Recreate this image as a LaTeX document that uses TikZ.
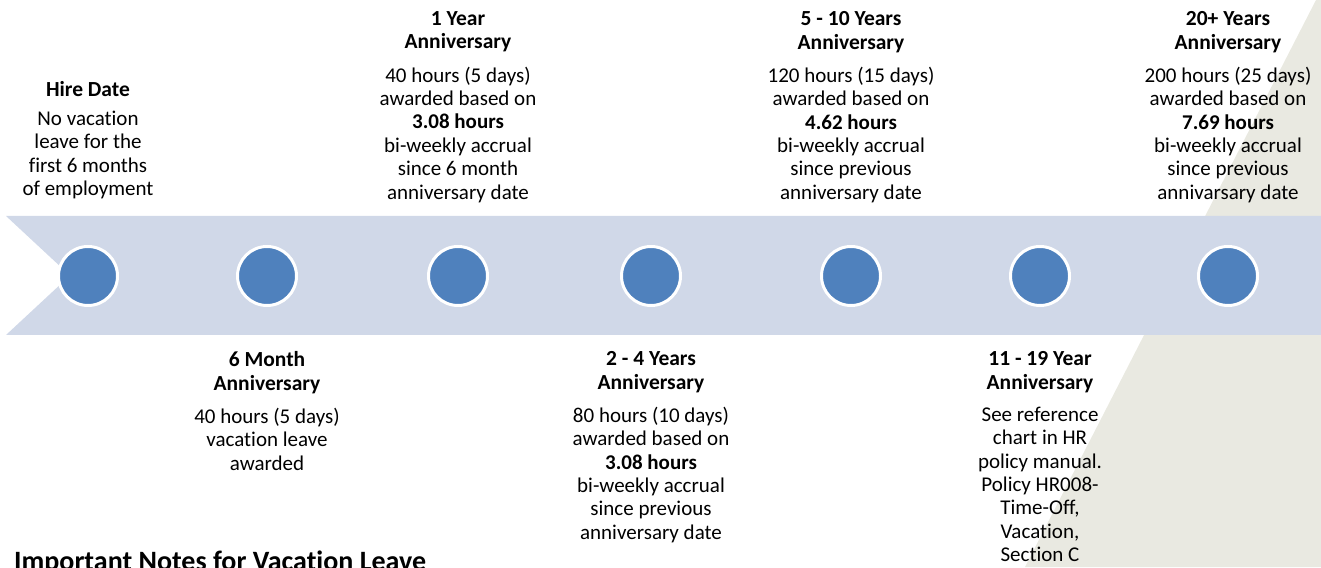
\documentclass[tikz,border=0pt]{standalone}
\usepackage{fontspec}
\setmainfont{Carlito}[Ligatures={NoCommon}]
\usetikzlibrary{positioning}
\definecolor{bandblue}{HTML}{D0D8E8}
\definecolor{dotblue}{HTML}{4F81BD}
\definecolor{backgray}{HTML}{E9E9E1}

\begin{document}
\begin{tikzpicture}[x=1pt,y=1pt,
  dot/.style={circle,fill=dotblue,draw=white,line width=3pt,minimum size=59pt,inner sep=0pt},
  head/.style={align=center,inner sep=0pt,font=\fontsize{21.5}{23.8}\selectfont\bfseries},
  txt/.style={align=center,inner sep=0pt,font=\fontsize{21}{23.4}\selectfont},
  node distance=14pt]
\useasboundingbox (0,0) rectangle (1321,567);

% background
\fill[backgray] (1316,567) -- (1321,567) -- (1321,0) -- (1025,0) -- cycle;
\fill[bandblue] (6,351) -- (1321,351) -- (1321,232) -- (6,232) -- (70,291.5) -- cycle;

% dots on the band
\node[dot] (A) at (88,291) {};
\node[dot] (B) at (267,291) {};
\node[dot] (C) at (458,291) {};
\node[dot] (D) at (651,291) {};
\node[dot] (E) at (851,291) {};
\node[dot] (F) at (1040,291) {};
\node[dot] (G) at (1228,291) {};

% above the band
\node[head,anchor=north] (hA) at (A |- 0,486) {Hire Date};
\node[txt,below=of hA] (tA) {No vacation\\leave for the\\first 6 months\\of employment};

\node[head,anchor=north] (hC) at (C |- 0,556) {1 Year\\Anniversary};
\node[txt,below=of hC] (tC) {40 hours (5 days)\\awarded based on\\\textbf{3.08 hours}\\bi-weekly accrual\\since 6 month\\anniversary date};

\node[head,anchor=north] (hE) at (E |- 0,556) {5 - 10 Years\\Anniversary};
\node[txt,below=of hE] (tE) {120 hours (15 days)\\awarded based on\\\textbf{4.62 hours}\\bi-weekly accrual\\since previous\\anniversary date};

\node[head,anchor=north] (hG) at (G |- 0,556) {20+ Years\\Anniversary};
\node[txt,below=of hG] (tG) {200 hours (25 days)\\awarded based on\\\textbf{7.69 hours}\\bi-weekly accrual\\since previous\\annivarsary date};

% below the band
\node[head,anchor=north] (hB) at (B |- 0,216) {6 Month\\Anniversary};
\node[txt,below=of hB] (tB) {40 hours (5 days)\\vacation leave\\awarded};

\node[head,anchor=north] (hD) at (D |- 0,216) {2 - 4 Years\\Anniversary};
\node[txt,below=of hD] (tD) {80 hours (10 days)\\awarded based on\\\textbf{3.08 hours}\\bi-weekly accrual\\since previous\\anniversary date};

\node[head,anchor=north] (hF) at (F |- 0,216) {11 - 19 Year\\Anniversary};
\node[txt,below=of hF] (tF) {See reference\\chart in HR\\policy manual.\\Policy HR008-\\Time-Off,\\Vacation,\\Section C};

\node[anchor=base west,inner sep=0pt,font=\fontsize{28}{32}\selectfont\bfseries] (notes) at (14,-3) {Important Notes for Vacation Leave};
\end{tikzpicture}
\end{document}
